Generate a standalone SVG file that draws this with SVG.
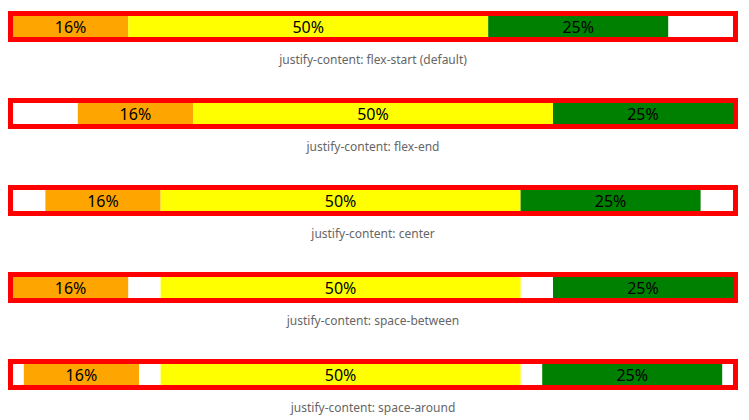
<svg xmlns="http://www.w3.org/2000/svg" width="749" height="420" viewBox="0 0 749 420">
<style>
.box{fill:#fff;stroke:#f00;stroke-width:5}
.o{fill:#ffa500}.y{fill:#ff0}.g{fill:#008000}
.p{font-family:"Noto Sans","Liberation Sans",sans-serif;font-size:16px;fill:#000;text-anchor:middle}
.cap{font-family:"Noto Sans","Liberation Sans",sans-serif;font-size:12px;fill:#666;text-anchor:middle}
</style>
<g id="flex-start">
<rect class="box" x="10.5" y="13.5" width="725" height="26"/>
<rect class="o" x="13" y="16" width="115.2" height="21"/>
<rect class="y" x="128.2" y="16" width="360" height="21"/>
<rect class="g" x="488.2" y="16" width="180" height="21"/>
<text class="p" x="70.6" y="32.5">16%</text>
<text class="p" x="308.2" y="32.5">50%</text>
<text class="p" x="578.2" y="32.5">25%</text>
<text class="cap" x="373" y="64">justify-content: flex-start (default)</text>
</g>
<g id="flex-end">
<rect class="box" x="10.5" y="100.5" width="725" height="26"/>
<rect class="o" x="77.8" y="103" width="115.2" height="21"/>
<rect class="y" x="193" y="103" width="360" height="21"/>
<rect class="g" x="553" y="103" width="180" height="21"/>
<text class="p" x="135.4" y="119.5">16%</text>
<text class="p" x="373" y="119.5">50%</text>
<text class="p" x="643" y="119.5">25%</text>
<text class="cap" x="373" y="151">justify-content: flex-end</text>
</g>
<g id="center">
<rect class="box" x="10.5" y="187.5" width="725" height="26"/>
<rect class="o" x="45.4" y="190" width="115.2" height="21"/>
<rect class="y" x="160.6" y="190" width="360" height="21"/>
<rect class="g" x="520.6" y="190" width="180" height="21"/>
<text class="p" x="103" y="206.5">16%</text>
<text class="p" x="340.6" y="206.5">50%</text>
<text class="p" x="610.6" y="206.5">25%</text>
<text class="cap" x="373" y="238">justify-content: center</text>
</g>
<g id="space-between">
<rect class="box" x="10.5" y="274.5" width="725" height="26"/>
<rect class="o" x="13" y="277" width="115.2" height="21"/>
<rect class="y" x="160.6" y="277" width="360" height="21"/>
<rect class="g" x="553" y="277" width="180" height="21"/>
<text class="p" x="70.6" y="293.5">16%</text>
<text class="p" x="340.6" y="293.5">50%</text>
<text class="p" x="643" y="293.5">25%</text>
<text class="cap" x="373" y="325">justify-content: space-between</text>
</g>
<g id="space-around">
<rect class="box" x="10.5" y="361.5" width="725" height="26"/>
<rect class="o" x="23.8" y="364" width="115.2" height="21"/>
<rect class="y" x="160.6" y="364" width="360" height="21"/>
<rect class="g" x="542.2" y="364" width="180" height="21"/>
<text class="p" x="81.4" y="380.5">16%</text>
<text class="p" x="340.6" y="380.5">50%</text>
<text class="p" x="632.2" y="380.5">25%</text>
<text class="cap" x="373" y="412">justify-content: space-around</text>
</g>
<g id="connectors"/>
</svg>
